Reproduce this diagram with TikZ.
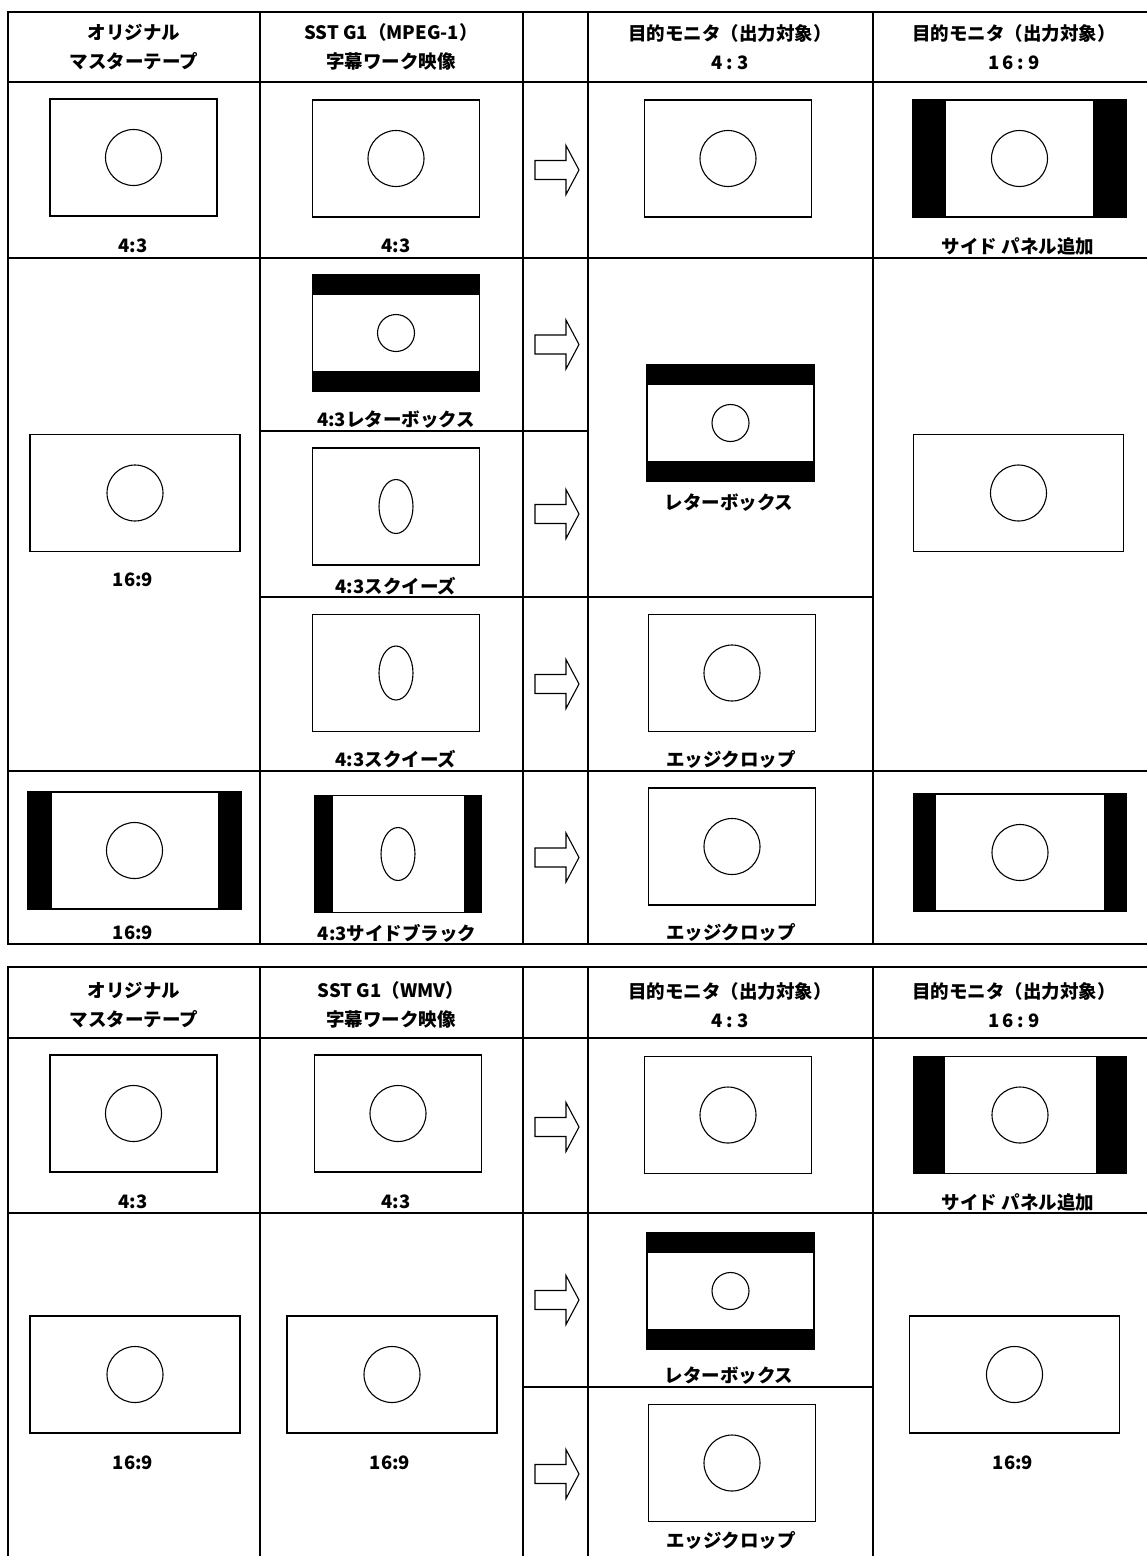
\documentclass[tikz,border=0pt]{standalone}
\usepackage{fontspec}
\newfontfamily\jp{Noto Sans CJK JP}
\begin{document}
\begin{tikzpicture}[x=1pt,y=-1pt,
  tabline/.style={line width=2.7pt},
  rowline/.style={line width=1.6pt},
  subline/.style={line width=1.2pt},
  scrframe/.style={draw,line width=1.3pt},
  face/.style={line width=1.1pt},
  bar/.style={fill=black},
  lbl/.style={font=\jp\bfseries\fontsize{18.5}{20}\selectfont,inner sep=0pt},
  hdr/.style={font=\jp\bfseries\fontsize{18.5}{29}\selectfont,align=center,inner sep=0pt},
  full43/.pic={\draw[scrframe] (-83.5,-58.5) rectangle (83.5,58.5);
    \draw[face] (0,0) circle (28);},
  full169/.pic={\draw[scrframe] (-105,-58.5) rectangle (105,58.5);
    \draw[face] (0,0) circle (28);},
  lbox43/.pic={\fill[bar] (-83.5,-58.5) rectangle (83.5,-38);
    \fill[bar] (-83.5,38) rectangle (83.5,58.5);
    \draw[scrframe] (-83.5,-58.5) rectangle (83.5,58.5);
    \draw[face] (0,0) circle (18.5);},
  squeeze43/.pic={\draw[scrframe] (-83.5,-58.5) rectangle (83.5,58.5);
    \draw[face] (0,0) ellipse [x radius=17,y radius=27];},
  sideblk43/.pic={\fill[bar] (-83.5,-58.5) rectangle (-65.5,58.5);
    \fill[bar] (65.5,-58.5) rectangle (83.5,58.5);
    \draw[scrframe] (-83.5,-58.5) rectangle (83.5,58.5);
    \draw[face] (0,0) ellipse [x radius=17,y radius=26.5];},
  pillar169/.pic={\fill[bar] (-106.5,-58.5) rectangle (-106.5+#1,58.5);
    \fill[bar] (106.5-#1,-58.5) rectangle (106.5,58.5);
    \draw[scrframe] (-106.5,-58.5) rectangle (106.5,58.5);
    \draw[face] (0,0) circle (28);},
  conv/.pic={\draw[line width=1.1pt] (-20.5,-9.5) -- (10.5,-9.5) -- (10.5,-24.5)
    -- (23.5,0) -- (10.5,24.5) -- (10.5,9.5) -- (-20.5,9.5) -- cycle;}
]
\useasboundingbox (0,0) rectangle (1147,1556);
\fill[white] (0,0) rectangle (1147,1556);
\clip (0,0) rectangle (1147,1556);

% upper table: MPEG-1
\draw[tabline] (1150,12) -- (8,12) -- (8,944) -- (1150,944);
\draw[tabline] (8,82) -- (1150,82);
\foreach \cx in {260,523,588,873}
  \draw[tabline] (\cx,12) -- (\cx,944);
\draw[rowline] (8,258) -- (1150,258);
\draw[rowline] (8,771) -- (1150,771);
\draw[subline] (260,431) -- (588,431);
\draw[subline] (260,597) -- (873,597);

\node[hdr] (t-hd-orig) at (134,47) {オリジナル\\マスターテープ};
\node[hdr] (t-hd-sst) at (391,47) {SST G1（MPEG-1）\\字幕ワーク映像};
\node[hdr] (t-hd-m43) at (730,47) {目的モニタ（出力対象）\\4\kern4pt:\kern4pt3};
\node[hdr] (t-hd-m169) at (1014,47) {目的モニタ（出力対象）\\1\kern3pt6\kern4pt:\kern4pt9};

\pic (t-a-orig) at (133.5,157.5) {full43};
\node[lbl] (t-a-orig-l) at (133,246) {4:3};
\pic (t-a-sst) at (396,158.5) {full43};
\node[lbl] (t-a-sst-l) at (396,246) {4:3};
\pic (t-a-m43) at (728,158.5) {full43};
\pic (t-a-m169) at (1019.5,158.5) {pillar169=33};
\node[lbl] (t-a-m169-l) at (1018,246) {サイド パネル追加};

\pic (t-b-orig) at (135,493) {full169};
\node[lbl] (t-b-orig-l) at (133,580) {16:9};
\pic (t-b1-sst) at (396,333) {lbox43};
\node[lbl] (t-b1-sst-l) at (396,420) {4:3レターボックス};
\pic (t-b2-sst) at (396,506.5) {squeeze43};
\node[lbl] (t-b2-sst-l) at (396,586) {4:3スクイーズ};
\pic (t-b3-sst) at (396,673) {squeeze43};
\node[lbl] (t-b3-sst-l) at (396,759) {4:3スクイーズ};
\pic (t-b1-m43) at (730.5,423) {lbox43};
\node[lbl] (t-b1-m43-l) at (729,503) {レターボックス};
\pic (t-b3-m43) at (732,673) {full43};
\node[lbl] (t-b3-m43-l) at (731,759) {エッジクロップ};
\pic (t-b-m169) at (1018.5,493) {full169};

\pic (t-c-orig) at (134.5,850.5) {pillar169=23.5};
\node[lbl] (t-c-orig-l) at (133,933) {16:9};
\pic (t-c-sst) at (398,854) {sideblk43};
\node[lbl] (t-c-sst-l) at (397,933) {4:3サイドブラック};
\pic (t-c-m43) at (732,846.5) {full43};
\node[lbl] (t-c-m43-l) at (731,932) {エッジクロップ};
\pic (t-c-m169) at (1020,852.5) {pillar169=22.5};

% lower table: WMV
\draw[tabline] (1150,967) -- (8,967) -- (8,1560);
\draw[tabline] (8,1038) -- (1150,1038);
\foreach \cx in {260,523,588,873}
  \draw[tabline] (\cx,967) -- (\cx,1560);
\draw[rowline] (8,1213) -- (1150,1213);
\draw[subline] (523,1387) -- (873,1387);

\node[hdr] (b-hd-orig) at (134,1005) {オリジナル\\マスターテープ};
\node[hdr] (b-hd-sst) at (391,1005) {SST G1（WMV）\\字幕ワーク映像};
\node[hdr] (b-hd-m43) at (730,1005) {目的モニタ（出力対象）\\4\kern4pt:\kern4pt3};
\node[hdr] (b-hd-m169) at (1014,1005) {目的モニタ（出力対象）\\1\kern3pt6\kern4pt:\kern4pt9};

\pic (b-a-orig) at (133.5,1113.5) {full43};
\node[lbl] (b-a-orig-l) at (133,1202) {4:3};
\pic (b-a-sst) at (398,1113.5) {full43};
\node[lbl] (b-a-sst-l) at (396,1202) {4:3};
\pic (b-a-m43) at (728,1115) {full43};
\pic (b-a-m169) at (1020,1115) {pillar169=31};
\node[lbl] (b-a-m169-l) at (1018,1202) {サイド パネル追加};

\pic (b-b-orig) at (135,1374.5) {full169};
\node[lbl] (b-b-orig-l) at (133,1463) {16:9};
\pic (b-b-sst) at (392,1374.5) {full169};
\node[lbl] (b-b-sst-l) at (390,1463) {16:9};
\pic (b-b1-m43) at (730.5,1291) {lbox43};
\node[lbl] (b-b1-m43-l) at (729,1376) {レターボックス};
\pic (b-b2-m43) at (732,1463) {full43};
\node[lbl] (b-b2-m43-l) at (731,1540) {エッジクロップ};
\pic (b-b-m169) at (1014.5,1374.5) {full169};
\node[lbl] (b-b-m169-l) at (1013,1463) {16:9};

% conversion arrows
\foreach \ay in {170,344.5,514,684,857.5,1127,1300,1474}
  \pic at (555.5,\ay) {conv};
\end{tikzpicture}
\end{document}
